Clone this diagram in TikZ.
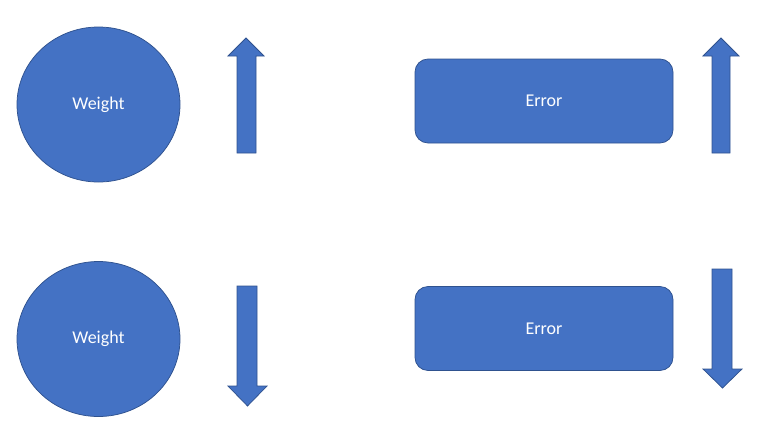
\documentclass[tikz,border=0pt]{standalone}
\usepackage{fontspec}
\setmainfont{Carlito}
\usetikzlibrary{shapes.geometric}
\usetikzlibrary{positioning}
\definecolor{officeblue}{HTML}{4472C4}
\definecolor{officeline}{HTML}{2F528F}
\tikzstyle{weight} = [draw=officeline, fill=officeblue, ellipse, line width=0.75pt, text=white, minimum width=163pt, minimum height=155pt, font=\fontsize{18}{22}\selectfont]
\tikzstyle{error} = [draw=officeline, fill=officeblue, rectangle, rounded corners=13pt, line width=0.75pt, text=white, minimum width=258pt, minimum height=84pt, font=\fontsize{18}{22}\selectfont]
\tikzstyle{block} = [draw=officeline, fill=officeblue, line width=0.75pt, line join=miter]

\begin{document}
\begin{tikzpicture}[x=1pt,y=-1pt]
                        \useasboundingbox (0,0) rectangle (757,429);

                        \node[weight](W1) at (98.5,104.5) {Weight};
                        \node[weight,below of=W1,node distance=234.5pt](W2) {Weight};
                        \node[error](E1) at (544,101) {Error};
                        \node[error,below of=E1,node distance=227.5pt](E2) {Error};

                        % up arrows
                        \draw[block] (237,153) -- (237,56) -- (228,56) -- (246,38) -- (264,56) -- (256,56) -- (256,153) -- cycle;
                        \draw[block] (712,153) -- (712,56) -- (703,56) -- (721,38) -- (739,56) -- (730,56) -- (730,153) -- cycle;

                        % down arrows
                        \draw[block] (237,286) -- (237,386) -- (228,386) -- (247.5,406) -- (267,386) -- (257,386) -- (257,286) -- cycle;
                        \draw[block] (712,269) -- (712,369) -- (703,369) -- (722.5,388) -- (742,369) -- (732,369) -- (732,269) -- cycle;
                    \end{tikzpicture}
\end{document}
